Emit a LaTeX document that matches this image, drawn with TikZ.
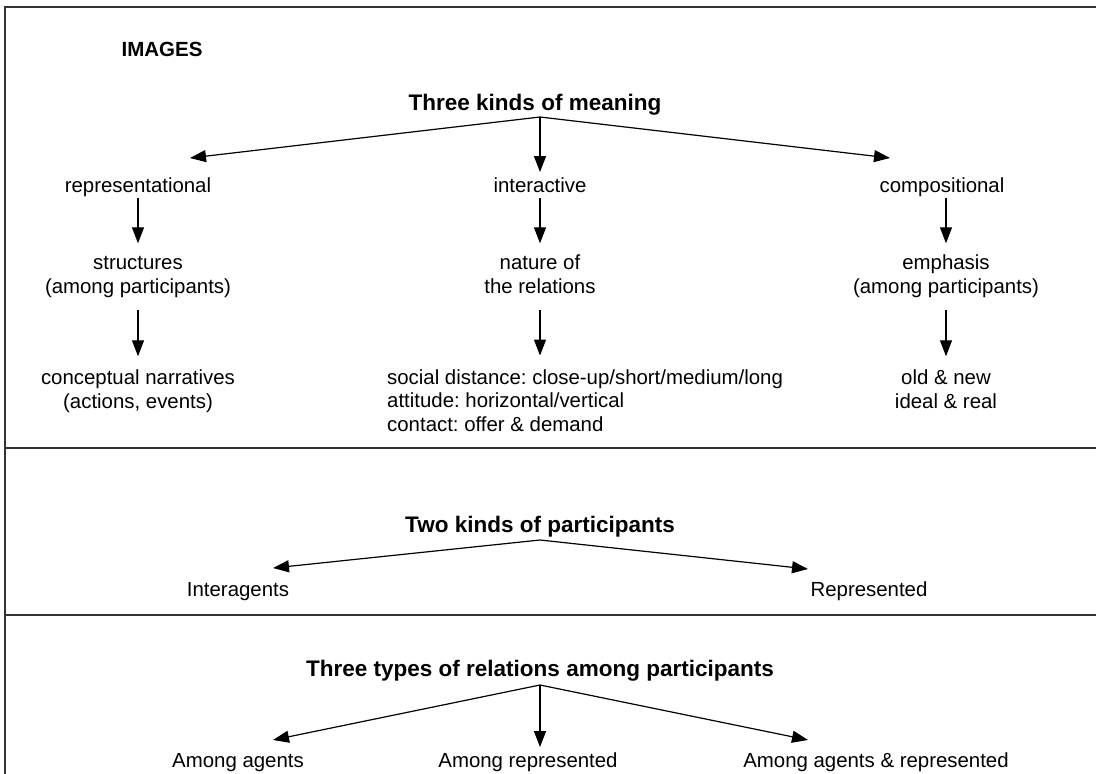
\documentclass[tikz,border=0pt]{standalone}
\usepackage{fontspec}
\setmainfont{Liberation Sans}
\usetikzlibrary{arrows.meta}
\frenchspacing
\begin{document}
\begin{tikzpicture}[x=1pt,y=-1pt,
  frame/.style={line width=1.8pt, draw=black!80},
  arr/.style={line width=1.2pt, -{Triangle[length=16pt,width=12pt]}},
  txt/.style={font=\fontsize{20.4}{23.5}\selectfont, align=center, inner sep=1pt},
  ttl/.style={font=\fontsize{22.5}{26}\selectfont\bfseries, inner sep=1pt}]
\useasboundingbox (0,0) rectangle (1096,774);
% frame
\draw[frame] (1096,7) -- (5,7) -- (5,774);
\draw[frame] (5,448) -- (1096,448);
\draw[frame] (5,615) -- (1096,615);

% section 1
\node[ttl, font=\fontsize{20.5}{24}\selectfont\bfseries] (images) at (162,49) {IMAGES};
\node[ttl] (t1) at (535,105) {Three kinds of meaning};
\coordinate (o1) at (540,117);
\node[txt] (rep) at (138,188) {\strut representational};
\node[txt] (inter) at (540,188) {\strut interactive};
\node[txt] (comp) at (942,188) {\strut compositional};
\coordinate (rtip) at (190,158);
\coordinate (ctip) at (890,158);
\draw[arr] (o1) -- (rtip);
\draw[arr, shorten >=3pt] (o1) -- (inter.north);
\draw[arr] (o1) -- (ctip);

\node[txt] (struct) at (138,277) {\strut structures\\\strut (among participants)};
\node[txt] (nature) at (540,277) {\strut nature of\\\strut the relations};
\node[txt] (emph) at (946,277) {\strut emphasis\\\strut (among participants)};
\node[txt] (concept) at (138,392) {\strut conceptual narratives\\\strut (actions, events)};
\node[txt, align=left, anchor=west] (social) at (386,403) {\strut social distance: close-up/short/medium/long\\\strut attitude: horizontal/vertical\\\strut contact: offer \& demand};
\node[txt] (old) at (946,392) {\strut old \& new\\\strut ideal \& real};

\draw[arr, shorten <=-3pt, shorten >=9pt] (rep.south) -- (rep.south |- struct.north);
\draw[arr, shorten <=-3pt, shorten >=9pt] (inter.south) -- (inter.south |- nature.north);
\draw[arr, shorten <=-3pt, shorten >=9pt] (comp.south -| emph.north) -- (emph.north);
\draw[arr, shorten <=8pt, shorten >=11pt] (struct.south) -- (struct.south |- concept.north);
\draw[arr, shorten <=8pt, shorten >=11pt] (nature.south) -- (nature.south |- social.north);
\draw[arr, shorten <=8pt, shorten >=11pt] (emph.south) -- (old.north);

% section 2
\node[ttl] (t2) at (540,527) {Two kinds of participants};
\coordinate (o2) at (540,540);
\node[txt] (interag) at (238,592) {\strut Interagents};
\node[txt] (repres) at (869,592) {\strut Represented};
\coordinate (ltip2) at (273,568);
\coordinate (rtip2) at (808,569);
\draw[arr] (o2) -- (ltip2);
\draw[arr] (o2) -- (rtip2);

% section 3
\node[ttl] (t3) at (540,671) {Three types of relations among participants};
\coordinate (o3) at (540,685);
\node[txt] (amag) at (238,763) {\strut Among agents};
\node[txt] (amrep) at (528,763) {\strut Among represented};
\node[txt] (amboth) at (876,763) {\strut Among agents \& represented};
\coordinate (ltip3) at (273,740);
\coordinate (rtip3) at (808,740);
\draw[arr] (o3) -- (ltip3);
\draw[arr, shorten >=3pt] (o3) -- (o3 |- amrep.north);
\draw[arr] (o3) -- (rtip3);
\end{tikzpicture}
\end{document}
